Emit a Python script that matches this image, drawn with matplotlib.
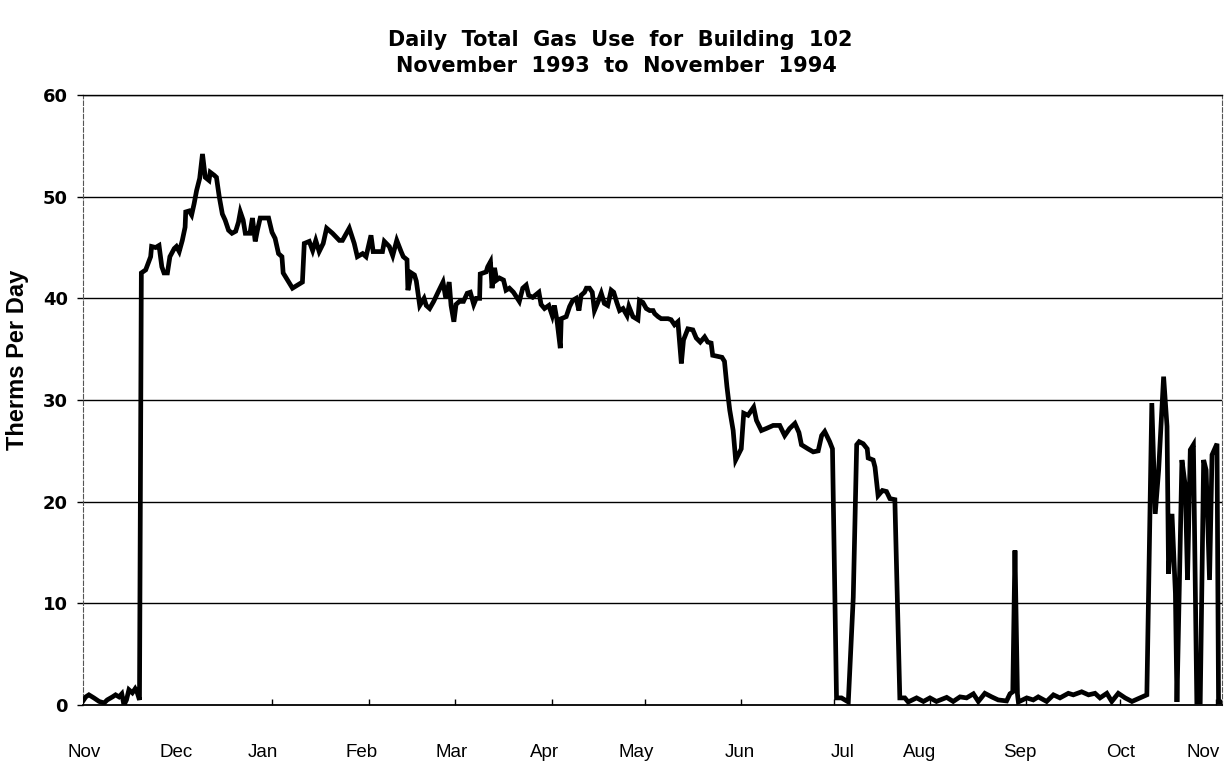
import matplotlib
matplotlib.use("Agg")
import matplotlib.pyplot as plt

# days since 1 Nov 1993
day = [0, 0.9, 1.9, 3.5, 5.2, 6.8, 7.8, 9.5, 10.5, 11.6, 12.5, 13.2, 14.0, 14.8, 15.9, 16.8, 17.5, 18.2, 18.8,
       20.2, 21.8, 22.1, 23.4, 24.5, 25.4, 26.1, 27.2, 28.0, 29.4, 30.1, 31.0, 32.0, 32.9, 33.1, 34.2, 35.0, 35.8,
       36.6, 37.6, 38.5, 39.0, 39.4, 40.6, 41.0, 42.3, 43.0, 43.9, 44.9, 45.8, 46.9, 48.0, 49.2, 50.1, 50.7, 51.6,
       52.3, 53.8, 54.6, 55.5, 56.2, 57.1, 59.8, 60.9, 61.9, 63.0, 64.1, 64.5, 65.9, 67.5, 69.1, 70.7, 71.3, 72.9,
       74.0, 75.0, 76.1, 77.4, 78.5, 80.4, 82.6, 83.6, 85.8, 87.4, 88.4, 90.1, 91.2, 92.8, 93.5, 96.5, 97.1, 98.7,
       99.8, 101.1, 102.5, 103.2, 104.4, 104.7, 105.8, 106.8, 107.4, 108.5, 109.9, 110.6, 111.7, 113.0, 114.4,
       116.0, 116.9, 118.0, 118.6, 119.5, 120.2, 121.3, 122.6, 123.8, 124.8, 125.9, 126.7, 127.8, 128.0, 129.9,
       130.4, 131.3, 131.8, 132.6, 133.3, 134.2, 135.5, 136.3, 137.4, 138.7, 140.6, 141.7, 142.8, 143.6, 144.9,
       146.9, 147.6, 148.7, 150.1, 151.2, 151.9, 152.7, 153.8, 154.1, 155.7, 156.8, 157.8, 158.9, 159.8, 160.5,
       161.6, 162.2, 163.2, 164.1, 164.8, 165.9, 167.0, 168.0, 169.1, 170.2, 171.0, 172.0, 172.9, 174.0, 175.3,
       175.9, 177.2, 178.8, 179.3, 180.4, 181.5, 182.6, 183.7, 184.2, 185.3, 186.3, 188.5, 189.5, 190.6, 191.7,
       192.8, 193.5, 194.9, 196.5, 197.6, 198.9, 200.3, 201.3, 202.4, 202.9, 205.9, 206.7, 207.5, 208.4, 209.5,
       210.3, 212.1, 212.9, 214.3, 215.4, 216.1, 217.0, 218.6, 220.2, 222.4, 224.5, 226.1, 227.7, 229.4, 230.7,
       231.5, 233.6, 235.3, 236.9, 238.0, 239.0, 240.6, 241.5, 242.8, 244.4, 246.6, 248.2, 249.3, 250.1, 251.4,
       252.7, 253.0, 254.6, 255.2, 256.2, 257.6, 258.9, 260.0, 261.6, 263.2, 264.8, 265.9, 268.6, 270.8, 272.9,
       275.0, 278.3, 280.4, 282.6, 284.7, 286.9, 288.5, 290.6, 292.8, 294.9, 297.6, 298.7, 299.6, 300.3, 301.1,
       301.4, 304.1, 306.2, 307.8, 310.5, 312.7, 314.8, 317.5, 319.1, 321.8, 324.0, 326.1, 327.7, 329.9, 331.5,
       333.6, 335.8, 338.0, 340.6, 342.8, 344.4, 345.5, 346.6, 348.2, 349.3, 349.8, 350.9, 352.0, 352.5, 354.1,
       355.2, 355.9, 356.8, 357.8, 358.9, 360.0, 361.1, 361.9, 363.0, 363.8, 365.4, 365.9, 367.5]

therms = [0.4, 0.8, 1.0, 0.7, 0.35, 0.2, 0.5, 0.8, 1.0, 0.8, 1.1, 0.0, 0.5, 1.5, 1.2, 1.6, 1.2, 0.5, 42.5,
          42.8, 44.1, 45.1, 45.0, 45.2, 43.1, 42.5, 42.5, 44.1, 44.9, 45.1, 44.6, 45.7, 47.0, 48.5, 48.6, 48.2, 49.3,
          50.6, 51.8, 54.2, 52.9, 51.9, 51.6, 52.4, 52.1, 51.9, 50.0, 48.3, 47.7, 46.7, 46.4, 46.6, 47.5, 48.5, 47.7,
          46.4, 46.4, 47.9, 45.6, 46.7, 47.9, 47.9, 46.5, 45.9, 44.4, 44.1, 42.5, 41.8, 41.0, 41.3, 41.6, 45.4, 45.6,
          44.7, 45.7, 44.6, 45.4, 46.9, 46.4, 45.7, 45.7, 46.9, 45.4, 44.1, 44.4, 44.1, 46.2, 44.6, 44.6, 45.6, 45.1,
          44.2, 45.7, 44.6, 44.1, 43.8, 40.8, 42.5, 42.3, 41.7, 39.3, 40.0, 39.3, 39.0, 39.7, 40.6,
          41.6, 40.0, 41.6, 39.3, 37.7, 39.4, 39.7, 39.7, 40.5, 40.6, 39.4, 40.0, 40.0, 42.4, 42.6,
          43.1, 43.6, 41.0, 43.0, 41.8, 42.0, 41.8, 40.8, 41.0, 40.6, 39.7, 41.0, 41.3, 40.3, 40.1,
          40.6, 39.4, 39.0, 39.3, 38.3, 39.3, 37.9, 35.1, 38.0, 38.2, 39.2, 39.8, 40.0, 38.8, 40.3,
          40.6, 41.0, 41.0, 40.6, 38.8, 39.6, 40.5, 39.5, 39.3, 40.8, 40.6, 39.6, 38.8, 39.0, 38.3,
          39.2, 38.2, 37.9, 39.8, 39.6, 39.0, 38.8, 38.8, 38.5, 38.2, 38.0, 38.0, 37.9, 37.4, 37.7,
          33.6, 35.9, 37.0, 36.9, 36.1, 35.7, 36.2, 35.7, 35.6, 34.4, 34.2, 33.8, 31.3, 29.0, 27.0,
          24.1, 25.2, 28.7, 28.5, 29.0, 29.3, 28.0, 27.0, 27.2, 27.5, 27.5, 26.5, 27.2, 27.7, 26.8,
          25.6, 25.2, 24.9, 25.0, 26.5, 26.9, 25.9, 25.2, 0.7, 0.7, 0.3, 10.6, 25.6, 25.9, 25.7,
          25.2, 24.3, 24.1, 23.4, 20.6, 21.1, 21.0, 20.3, 20.2, 0.7, 0.7, 0.3, 0.7, 0.35, 0.7,
          0.35, 0.75, 0.35, 0.8, 0.7, 1.1, 0.35, 1.15, 0.8, 0.5, 0.4, 1.1, 1.3, 15.2, 1.1,
          0.3, 0.7, 0.5, 0.8, 0.35, 1.0, 0.7, 1.15, 1.0, 1.3, 1.0, 1.15, 0.7, 1.15, 0.35,
          1.15, 0.7, 0.35, 0.7, 1.0, 29.7, 18.8, 23.1, 32.3, 27.4, 12.9, 18.8, 11.0, 0.3, 24.1,
          21.5, 12.3, 25.1, 25.6, 0.3, 0.3, 24.1, 23.1, 12.3, 24.6, 25.7, 0.3, 0.3]

# tick marks sit at month starts, the labels are placed a little loosely as in the original
month_start = [30, 61, 92, 120, 151, 181, 212, 242, 273, 304, 334, 365]
label_day = [0.5, 30, 58, 89.7, 118.7, 148.7, 178.4, 211.6, 244.8, 269.7, 301.9, 334.2, 361]
month_labels = ["Nov", "Dec", "Jan", "Feb", "Mar", "Apr", "May", "Jun", "Jul", "Aug", "Sep", "Oct", "Nov"]
y_ticks = [0, 10, 20, 30, 40, 50, 60]

plt.rcParams['font.family'] = ['Liberation Sans', 'DejaVu Sans']

fig = plt.figure(figsize=(12.26, 7.70), dpi=100)
ax = fig.add_axes([0.0677, 0.0844, 0.9290, 0.7922])

for v in y_ticks[1:]:
    ax.axhline(v, color='black', lw=1.0, zorder=1)

ax.plot(day, therms, color='black', lw=3.4, solid_joinstyle='miter', zorder=3)

ax.set_xlim(0, 367)
ax.set_ylim(0, 60)

ax.set_yticks(y_ticks)
ax.set_yticklabels([str(v) for v in y_ticks], fontsize=13, fontweight='bold', family='DejaVu Sans')
ax.tick_params(axis='y', direction='out', length=4, width=1.0, pad=7)

ax.set_xticks(label_day)
ax.set_xticklabels(month_labels, fontsize=13.5)
ax.tick_params(axis='x', which='major', length=0, pad=28)
ax.set_xticks(month_start, minor=True)
ax.tick_params(axis='x', which='minor', direction='in', length=4, width=1.0)

for side in ['left', 'right']:
    ax.spines[side].set_linestyle((0, (4, 2)))
    ax.spines[side].set_linewidth(0.8)
    ax.spines[side].set_color('#555555')
ax.spines['top'].set_linewidth(1.0)
ax.spines['bottom'].set_linewidth(1.3)

ax.set_ylabel("Therms Per Day", fontsize=17, fontweight='bold')
ax.yaxis.set_label_coords(-0.047, 0.566)

fig.text(0.506, 0.948, "Daily  Total  Gas  Use  for  Building  102", ha='center', va='center',
         fontsize=15, fontweight='bold', family='DejaVu Sans')
fig.text(0.503, 0.914, "November  1993  to  November  1994", ha='center', va='center',
         fontsize=15, fontweight='bold', family='DejaVu Sans')

fig.savefig("out.png", dpi=100)
